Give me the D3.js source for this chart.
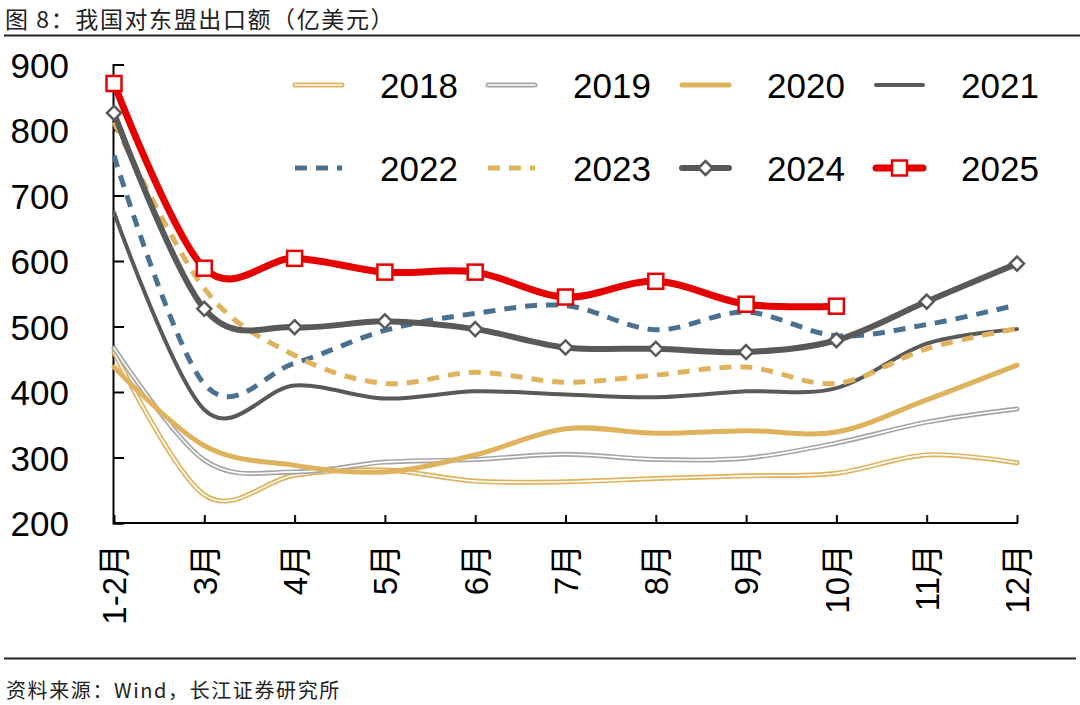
<!DOCTYPE html>
<html><head><meta charset="utf-8">
<script src="https://cdn.jsdelivr.net/npm/d3@7"></script>
<style>
html,body{margin:0;padding:0;background:#fff;}
svg{display:block;}
</style>
</head><body>
<svg id="c" width="1080" height="705"></svg>
<script>
const categories = ["1-2月","3月","4月","5月","6月","7月","8月","9月","10月","11月","12月"];
const yTicks = [200,300,400,500,600,700,800,900];
const s2018 = [461, 243, 273, 281, 264, 263, 268, 272, 276, 304, 292];
const s2019 = [467, 296, 278, 293, 297, 305, 297, 299, 322, 354, 374];
const s2020 = [438, 318, 288, 278, 304, 344, 337, 341, 339, 388, 441];
const s2021 = [674, 373, 410, 390, 401, 396, 392, 401, 406, 474, 496];
const s2022 = [761, 412, 444, 494, 520, 532, 495, 522, 486, 503, 533];
const s2023 = [812, 558, 456, 413, 430, 415, 426, 438, 413, 466, 497];
const s2024 = [826, 527, 499, 508, 496, 468, 466, 461, 479, 538, 596];
const s2025 = [871, 589, 604, 583, 583, 545, 569, 534, 531];
const seriesNames = ["2018","2019","2020","2021","2022","2023","2024","2025"];
const title = "图 8：我国对东盟出口额（亿美元）";
const source = "资料来源：Wind，长江证券研究所";

const YEL = "#DFB35E", GRY = "#A6A6A6", DRK = "#595959", BLU = "#4B7190", RED = "#E60000";
const styles = {
  "2018": {type:"double", color:YEL, w:5},
  "2019": {type:"double", color:GRY, w:5},
  "2020": {type:"solid", color:YEL, w:5},
  "2021": {type:"solid", color:DRK, w:4},
  "2022": {type:"dash", color:BLU, w:5},
  "2023": {type:"dash", color:YEL, w:5},
  "2024": {type:"solid", color:DRK, w:6, marker:"diamond"},
  "2025": {type:"solid", color:RED, w:7, marker:"square"}
};
const dataMap = {"2018":s2018,"2019":s2019,"2020":s2020,"2021":s2021,"2022":s2022,"2023":s2023,"2024":s2024,"2025":s2025};

const svg = d3.select("#c");
const FONT = "'Liberation Sans', Arial, 'Noto Sans CJK SC', sans-serif";
const CJK = "'Noto Sans CJK SC', sans-serif";

// Title
svg.append("text").attr("x",5).attr("y",28).attr("font-family",CJK).attr("font-size",23)
  .attr("letter-spacing",1.6).attr("fill","#222").text(title);
svg.append("line").attr("x1",4).attr("x2",1080).attr("y1",35.5).attr("y2",35.5)
  .attr("stroke","#222").attr("stroke-width",2);

// Footer
svg.append("line").attr("x1",4).attr("x2",1076).attr("y1",658.5).attr("y2",658.5)
  .attr("stroke","#222").attr("stroke-width",1.8);
svg.append("text").attr("x",6).attr("y",698).attr("font-family",CJK).attr("font-size",20)
  .attr("letter-spacing",1.6).attr("fill","#222").text(source);

const x = d3.scalePoint().domain(categories).range([114, 1017]);
const y = d3.scaleLinear().domain([200, 900]).range([523, 64.5]);

// Axes
const yAxis = d3.axisLeft(y).tickValues(yTicks).tickSize(-11).tickPadding(44).tickFormat(d3.format("d"));
const gy = svg.append("g").attr("transform","translate(113,0)").call(yAxis);
gy.select(".domain").attr("stroke","#000").attr("stroke-width",2);
gy.selectAll(".tick line").attr("stroke","#000").attr("stroke-width",2);
gy.selectAll(".tick text").attr("font-family",FONT).attr("font-size",35).attr("fill","#000").attr("dy","0.36em");

const xAxis = d3.axisBottom(x).tickSize(-8).tickSizeOuter(0).tickPadding(22);
const gx = svg.append("g").attr("transform","translate(0,523)").call(xAxis);
gx.select(".domain").attr("stroke","#000").attr("stroke-width",2).attr("d","M113,0H1018");
gx.selectAll(".tick line").attr("stroke","#000").attr("stroke-width",2);
gx.selectAll(".tick text").attr("font-family",FONT).attr("font-size",33).attr("fill","#000")
  .attr("text-anchor","end").attr("transform","rotate(-90)").attr("x",-21).attr("y",0).attr("dy","0.36em");

// Lines
const line = d3.line().x((d,i)=>x(categories[i])).y(d=>y(d)).curve(d3.curveCatmullRom.alpha(0));
const gl = svg.append("g");
function drawSeries(g, name, path){
  const s = styles[name];
  if (s.type === "double") {
    g.append("path").attr("d",path).attr("fill","none").attr("stroke",s.color).attr("stroke-width",s.w).attr("stroke-linecap","round");
    g.append("path").attr("d",path).attr("fill","none").attr("stroke","#fff").attr("stroke-width",1.6).attr("stroke-linecap","round");
  } else if (s.type === "dash") {
    g.append("path").attr("d",path).attr("fill","none").attr("stroke",s.color).attr("stroke-width",s.w).attr("stroke-dasharray","12,9");
  } else {
    g.append("path").attr("d",path).attr("fill","none").attr("stroke",s.color).attr("stroke-width",s.w).attr("stroke-linecap","round").attr("stroke-linejoin","round");
  }
}
function drawMarker(g, name, cx, cy){
  const s = styles[name];
  if (s.marker === "diamond") {
    g.append("path").attr("d",`M${cx},${cy-7}L${cx+7},${cy}L${cx},${cy+7}L${cx-7},${cy}Z`)
      .attr("fill","#fff").attr("stroke",s.color).attr("stroke-width",2.5);
  } else if (s.marker === "square") {
    g.append("rect").attr("x",cx-7.5).attr("y",cy-7.5).attr("width",15).attr("height",15)
      .attr("fill","#fff").attr("stroke",s.color).attr("stroke-width",2.5);
  }
}
seriesNames.forEach(name=>{
  drawSeries(gl, name, line(dataMap[name]));
});
seriesNames.forEach(name=>{
  if (styles[name].marker) dataMap[name].forEach((v,i)=>drawMarker(gl, name, x(categories[i]), y(v)));
});

// Legend
const colX = [295, 488, 682, 876];
const rowY = [85, 168];
const lg = svg.append("g");
seriesNames.forEach((name,i)=>{
  const cx0 = colX[i%4], cy = rowY[Math.floor(i/4)];
  const p = `M${cx0},${cy}H${cx0+47}`;
  drawSeries(lg, name, p);
  if (styles[name].marker) drawMarker(lg, name, cx0+23.5, cy);
  lg.append("text").attr("x",cx0+85).attr("y",cy).attr("dy","0.36em")
    .attr("font-family",FONT).attr("font-size",35).attr("fill","#000").text(name);
});
</script>
</body></html>
